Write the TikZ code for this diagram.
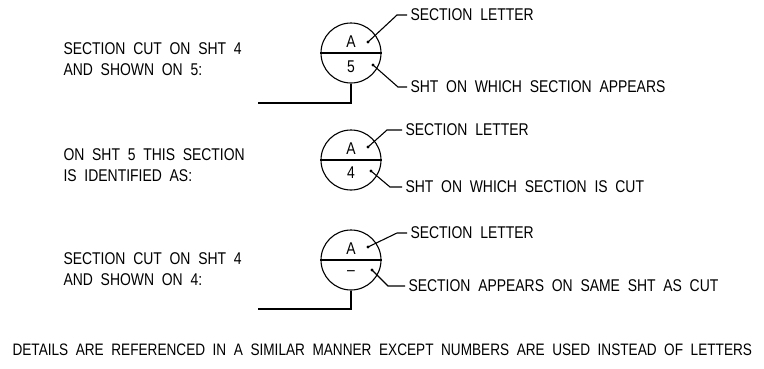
\documentclass[tikz,border=0pt]{standalone}
\usepackage{fontspec}
\setmainfont{Liberation Sans}[FakeStretch=0.82,WordSpace=2]
\begin{document}
\begin{tikzpicture}[x=1pt,y=-1pt,line width=1.1pt,
  txt/.style={draw=none,inner sep=0pt,font=\fontsize{17}{21}\selectfont},
  lbl/.style={txt,anchor=west},
  note/.style={txt,anchor=west,align=left},
  bub/.style={draw,circle,minimum size=60pt,inner sep=0pt}]
\fill[white] (0,0) rectangle (764,368);
\useasboundingbox (0,0) rectangle (764,368);
% first bubble
\node[bub] (b1) at (351,53) {};
\draw (b1.west) -- (b1.east);
\node[txt] (b1t) at (351,42) {A};
\node[txt] (b1b) at (351,67) {5};
\fill (368,42) circle (1.6) coordinate (d1t);
\fill (373,65) circle (1.6) coordinate (d1b);
\node[lbl] (l1t) at (410,15) {SECTION LETTER};
\node[lbl] (l1b) at (410,87) {SHT ON WHICH SECTION APPEARS};
\draw (d1t) -- (397,15) -- ([xshift=-3pt]l1t.west);
\draw (d1b) -- (398,87) -- ([xshift=-3pt]l1b.west);
\node[note] (n1) at (63,59.5) {SECTION CUT ON SHT 4\\AND SHOWN ON 5:};
\coordinate (e1) at (258,103);
\draw (b1.south) |- (e1);
% second bubble
\node[bub] (b2) at (351,160) {};
\draw (b2.west) -- (b2.east);
\node[txt] (b2t) at (351,149) {A};
\node[txt] (b2b) at (351,173) {4};
\fill (368,147) circle (1.6) coordinate (d2t);
\fill (371,171) circle (1.6) coordinate (d2b);
\node[lbl] (l2t) at (405,130) {SECTION LETTER};
\node[lbl] (l2b) at (405,187) {SHT ON WHICH SECTION IS CUT};
\draw (d2t) -- (387,130) -- ([xshift=-3pt]l2t.west);
\draw (d2b) -- (390,187) -- ([xshift=-3pt]l2b.west);
\node[note] (n2) at (63,165.5) {ON SHT 5 THIS SECTION\\IS IDENTIFIED AS:};
% third bubble
\node[bub] (b3) at (351,260) {};
\draw (b3.west) -- (b3.east);
\node[txt] (b3t) at (351,249) {A};
\node[txt] (b3b) at (351,273) {--};
\fill (368,247) circle (1.6) coordinate (d3t);
\fill (372,270) circle (1.6) coordinate (d3b);
\node[lbl] (l3t) at (410,233) {SECTION LETTER};
\node[lbl] (l3b) at (408,286) {SECTION APPEARS ON SAME SHT AS CUT};
\draw (d3t) -- (397,233) -- ([xshift=-3pt]l3t.west);
\draw (d3b) -- (388,286) -- ([xshift=-3pt]l3b.west);
\node[note] (n3) at (63,269.5) {SECTION CUT ON SHT 4\\AND SHOWN ON 4:};
\coordinate (e3) at (258,309);
\draw (b3.south) |- (e3);
% footnote
\node[lbl,font=\fontsize{16.6}{20}\selectfont] (foot) at (12,350) {DETAILS ARE REFERENCED IN A SIMILAR MANNER EXCEPT NUMBERS ARE USED INSTEAD OF LETTERS};
\end{tikzpicture}
\end{document}
